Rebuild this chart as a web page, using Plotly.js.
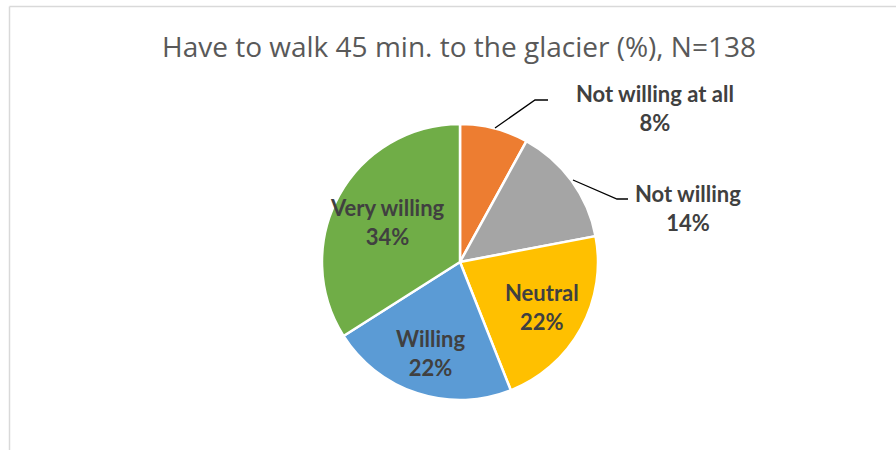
<!DOCTYPE html>
<html>
<head>
<meta charset="utf-8">
<script src="https://cdn.plot.ly/plotly-3.0.1.min.js"></script>
<style>
  html, body { margin: 0; padding: 0; background: #ffffff; }
  #chart { width: 896px; height: 450px; }
</style>
</head>
<body>
<div id="chart"></div>
<script>
// Willingness to walk 45 minutes to the glacier (share of respondents, %)
const categories = ['Not willing at all', 'Not willing', 'Neutral', 'Willing', 'Very willing'];
const shares = [8, 14, 22, 22, 34];
const sliceColors = ['#ED7D31', '#A5A5A5', '#FFC000', '#5B9BD5', '#70AD47'];
// The two small slices get their labels outside, joined by leader lines
const outsideLabel = [true, true, false, false, false];
// Inside labels sit on each slice's bisector, at this fraction of the radius
const insideRadiusFrac = [0, 0, 0.68, 0.69, 0.60];

const W = 896, H = 450;
const px = x => x / W;
const py = y => 1 - y / H;

// Pie geometry in pixels
const cx = 460, cy = 262, R = 138;

const labelFont = { family: 'Lato, "Open Sans", sans-serif', size: 22, color: '#404040', weight: 700 };

const trace = {
  type: 'pie',
  labels: categories,
  values: shares,
  sort: false,
  direction: 'clockwise',
  rotation: 0,
  marker: { colors: sliceColors, line: { color: '#ffffff', width: 2.5 } },
  textinfo: 'none',
  showlegend: false,
  hoverinfo: 'label+value',
  domain: { x: [px(cx - R), px(cx + R)], y: [py(cy + R), py(cy - R)] }
};

// Outside labels and their elbow leader lines
const outsidePos = [
  { tx: 655, ty: 108, line: [[495, 128], [535, 100], [548, 100]] },
  { tx: 688, ty: 208, line: [[573, 180], [617, 199], [628, 199]] }
];

const annotations = [];
const shapes = [];
const total = shares.reduce((a, b) => a + b, 0);
let cum = 0, k = 0;
categories.forEach((c, i) => {
  const text = '<b>' + c + '</b><br><b>' + shares[i] + '%</b>';
  const mid = (cum + shares[i] / 2) / total * 2 * Math.PI;   // clockwise from 12 o'clock
  cum += shares[i];
  if (outsideLabel[i]) {
    const p = outsidePos[k++];
    annotations.push({
      xref: 'paper', yref: 'paper', x: px(p.tx), y: py(p.ty),
      xanchor: 'center', yanchor: 'middle',
      text: text, showarrow: false, font: labelFont, align: 'center'
    });
    const path = p.line.map((pt, j) => (j ? 'L' : 'M') + px(pt[0]) + ',' + py(pt[1])).join(' ');
    shapes.push({ type: 'path', xref: 'paper', yref: 'paper', path: path,
                  line: { color: '#000000', width: 1.3 } });
  } else {
    const r = insideRadiusFrac[i] * R;
    annotations.push({
      xref: 'paper', yref: 'paper',
      x: px(cx + r * Math.sin(mid)), y: py(cy - r * Math.cos(mid)),
      xanchor: 'center', yanchor: 'middle',
      text: text, showarrow: false, font: labelFont, align: 'center'
    });
  }
});

// Chart-area frame (top and left edges visible)
shapes.push({ type: 'line', xref: 'paper', yref: 'paper', x0: px(9.5), x1: 1, y0: py(6.5), y1: py(6.5),
              line: { color: '#D9D9D9', width: 1.5 } });
shapes.push({ type: 'line', xref: 'paper', yref: 'paper', x0: px(9.5), x1: px(9.5), y0: py(6.5), y1: 0,
              line: { color: '#D9D9D9', width: 1.5 } });

const layout = {
  width: W, height: H,
  margin: { l: 0, r: 0, t: 0, b: 0 },
  paper_bgcolor: '#ffffff',
  title: {
    text: 'Have to walk 45 min. to the glacier (%), N=138',
    font: { family: '"Open Sans", sans-serif', size: 28, color: '#595959' },
    x: px(459), xanchor: 'center',
    y: py(47), yanchor: 'middle'
  },
  annotations: annotations,
  shapes: shapes
};

Plotly.newPlot('chart', [trace], layout, { displayModeBar: false, staticPlot: true });
</script>
</body>
</html>
